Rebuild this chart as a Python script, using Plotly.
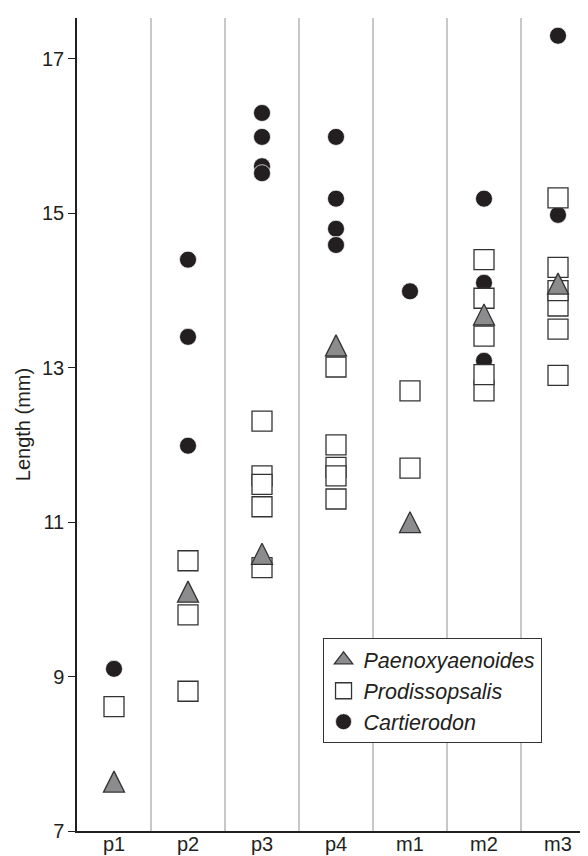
import plotly.graph_objects as go

# Tooth positions (categories)
teeth = ["p1", "p2", "p3", "p4", "m1", "m2", "m3"]

# Cartierodon (filled circles)
cart_tooth = ["p1", "p2", "p2", "p2", "p3", "p3", "p3", "p3",
              "p4", "p4", "p4", "p4", "m1", "m2", "m2", "m2", "m3", "m3"]
cart_len = [9.10, 14.40, 13.40, 11.99, 16.30, 15.99, 15.61, 15.52,
            15.99, 15.19, 14.80, 14.59, 13.99, 15.19, 14.10, 13.09, 17.30, 14.98]

# Prodissopsalis (open squares)
prod_tooth = ["p1", "p2", "p2", "p2", "p3", "p3", "p3", "p3", "p3",
              "p4", "p4", "p4", "p4", "p4", "m1", "m1",
              "m2", "m2", "m2", "m2", "m2",
              "m3", "m3", "m3", "m3", "m3", "m3"]
prod_len = [8.61, 10.50, 9.80, 8.81, 12.31, 11.60, 11.49, 11.20, 10.41,
            13.01, 12.00, 11.71, 11.60, 11.30, 12.70, 11.70,
            14.40, 13.90, 13.41, 12.70, 12.91,
            15.20, 14.30, 13.80, 14.00, 13.50, 12.90]

# Paenoxyaenoides (grey triangles)
paen_tooth = ["p1", "p2", "p3", "p4", "m1", "m2", "m3"]
paen_len = [7.64, 10.10, 10.59, 13.29, 11.00, 13.69, 14.09]

y_ticks = [7, 9, 11, 13, 15, 17]

idx = {t: i for i, t in enumerate(teeth)}
FONT = "Liberation Sans, Arial, sans-serif"
INK = "#231f20"
TRI_FILL = "#8c8c8e"
EDGE = "#333333"

fig = go.Figure()

fig.add_trace(go.Scatter(
    x=[idx[t] for t in cart_tooth], y=cart_len, mode="markers",
    name="<i>Cartierodon</i>", legendrank=3,
    marker=dict(symbol="circle", size=17, color=INK,
                line=dict(color="#ffffff", width=0.7)),
))
fig.add_trace(go.Scatter(
    x=[idx[t] for t in prod_tooth], y=prod_len, mode="markers",
    name="<i>Prodissopsalis</i>", legendrank=2,
    marker=dict(symbol="square", size=20, color="#ffffff",
                line=dict(color=EDGE, width=1.3)),
))
fig.add_trace(go.Scatter(
    x=[idx[t] for t in paen_tooth], y=paen_len, mode="markers",
    name="<i>Paenoxyaenoides</i>", showlegend=False,
    marker=dict(symbol="arrow-down", size=21, angle=180, standoff=10.5,
                color=TRI_FILL, line=dict(color=EDGE, width=1.3)),
))
# legend-only entry for the triangle series (no data drawn)
fig.add_trace(go.Scatter(
    x=[None], y=[None], mode="markers",
    name="<i>Paenoxyaenoides</i>", legendrank=1,
    marker=dict(symbol="triangle-up", size=20,
                color=TRI_FILL, line=dict(color=EDGE, width=1.3)),
))

fig.update_layout(
    width=588, height=856,
    margin=dict(l=69, r=1, t=10, b=33),
    paper_bgcolor="white", plot_bgcolor="white",
    font=dict(family=FONT, size=20, color=INK),
    showlegend=True,
    legend=dict(
        x=0.474, y=0.237, xanchor="left", yanchor="top",
        traceorder="normal",
        bordercolor=EDGE, borderwidth=1, bgcolor="white",
        font=dict(family=FONT, size=21.5, color=INK),
    ),
)

fig.update_xaxes(
    range=[-0.5, len(teeth) - 0.5],
    tickmode="array", tickvals=list(range(len(teeth))), ticktext=teeth,
    ticks="", ticklen=0, ticklabelstandoff=-6,
    showline=True, linecolor=INK, linewidth=1.5,
    showgrid=False, zeroline=False,
    minor=dict(tickvals=[i + 0.5 for i in range(len(teeth) - 1)],
               showgrid=True, gridcolor="#c8c8c8", gridwidth=1.5, ticks=""),
    tickfont=dict(size=20),
)
fig.update_yaxes(
    range=[7, 17.53],
    tickmode="array", tickvals=y_ticks,
    ticks="outside", ticklen=7, tickwidth=1.3, tickcolor=INK,
    showline=True, linecolor=INK, linewidth=1.5,
    showgrid=False, zeroline=False,
    title=dict(text="Length (mm)", standoff=6, font=dict(size=20)),
    tickfont=dict(size=20),
)

fig.write_html("out.html")
